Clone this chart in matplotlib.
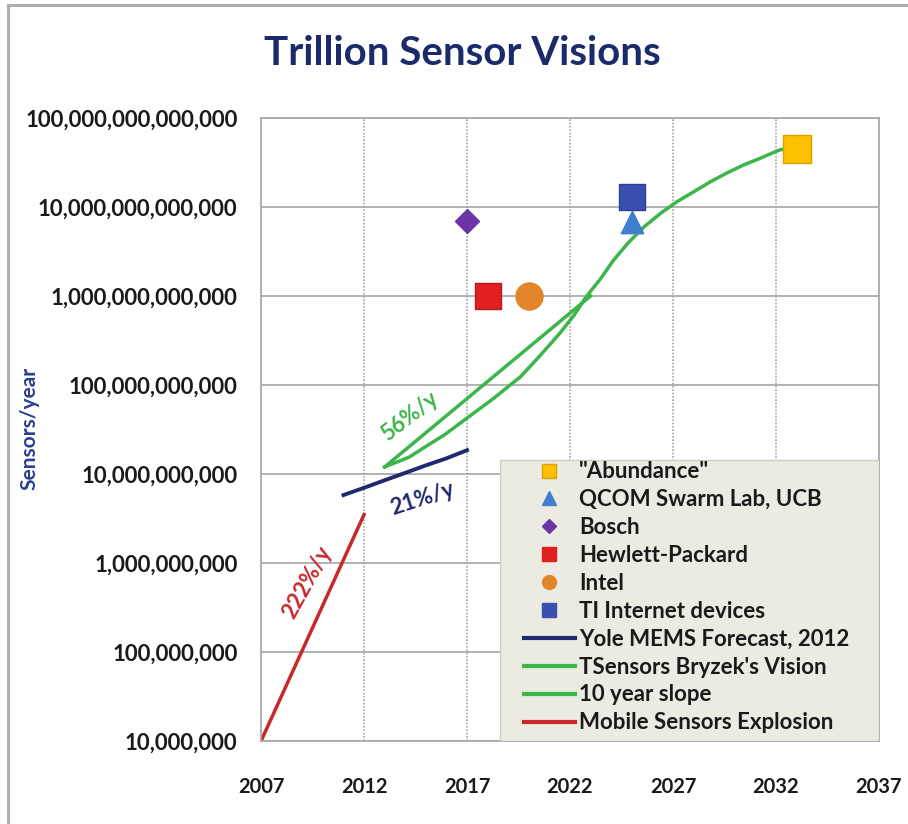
import numpy as np
import matplotlib.pyplot as plt
from matplotlib.lines import Line2D
from matplotlib.patches import Rectangle
from matplotlib.ticker import FixedLocator, FuncFormatter

plt.rcParams['font.family'] = ['Lato', 'DejaVu Sans']

# point forecasts (year, sensors/year)
abundance = (2033, 4.5e13)
qcom = (2025, 6.8e12)
bosch = (2017, 7.0e12)
hp = (2018, 1.0e12)
intel = (2020, 1.0e12)
ti = (2025, 1.3e13)

# lines
yole_years = [2011, 2012, 2013, 2014, 2015, 2016, 2017]
yole_vals = [5.8e9, 7.0e9, 8.5e9, 1.03e10, 1.25e10, 1.5e10, 1.85e10]
bryzek_years = [2013, 2014.2, 2015, 2015.9, 2017, 2018.3, 2019.6, 2020.5, 2021.5, 2022.2,
                2022.8, 2023.5, 2024.1, 2024.8, 2025.6, 2026.4, 2027.2, 2028, 2028.8,
                2029.6, 2030.4, 2031.2, 2032.2, 2032.8]
bryzek_vals = [1.2e10, 1.55e10, 2.04e10, 2.75e10, 4.25e10, 7.1e10, 1.24e11, 2.08e11,
               3.8e11, 6.1e11, 9.9e11, 1.58e12, 2.5e12, 3.9e12, 6.0e12, 8.5e12, 1.15e13,
               1.48e13, 1.91e13, 2.4e13, 2.95e13, 3.5e13, 4.4e13, 4.55e13]
slope_years = [2013, 2023]
slope_vals = [1.2e10, 1.0e12]
mobile_years = [2007, 2012]
mobile_vals = [1.0e7, 3.5e9]

year_ticks = [2007, 2012, 2017, 2022, 2027, 2032, 2037]
value_ticks = [1e7, 1e8, 1e9, 1e10, 1e11, 1e12, 1e13, 1e14]

navy = '#1f2a6e'
green = '#3cb54a'
red = '#c8282c'

fig = plt.figure(figsize=(9.08, 8.24), dpi=100)
ax = fig.add_axes([0.2875, 0.1007, 0.6805, 0.7561])

ax.set_yscale('log')
ax.set_xlim(2007, 2037)
ax.set_ylim(1e7, 1e14)
ax.xaxis.set_major_locator(FixedLocator(year_ticks))
ax.yaxis.set_major_locator(FixedLocator(value_ticks))
ax.yaxis.set_minor_locator(FixedLocator([]))
ax.yaxis.set_major_formatter(FuncFormatter(lambda v, p: f'{int(round(v)):,}'))
ax.tick_params(axis='y', length=0, labelsize=16, pad=17)
ax.tick_params(axis='x', length=0, labelsize=14.5, pad=26)
for lab in ax.get_xticklabels() + ax.get_yticklabels():
    lab.set_fontweight('bold')
    lab.set_color('#1a1a1a')

ax.grid(axis='y', color='#a6a6a6', lw=1.2)
ax.grid(axis='x', color='#a6a6a6', lw=1.2, ls=(0, (1, 1)))
ax.set_axisbelow(True)
for s in ax.spines.values():
    s.set_color('#a6a6a6')
    s.set_linewidth(1.2)

ax.plot(mobile_years, mobile_vals, color=red, lw=2.5)
ax.plot(yole_years, yole_vals, color=navy, lw=2.8)
ax.plot(slope_years, slope_vals, color=green, lw=2.5)
ax.plot(bryzek_years, bryzek_vals, color=green, lw=2.5)

ax.scatter(*abundance, marker='s', s=380, color='#ffc000', edgecolor='#d9a300', zorder=5)
ax.scatter(*ti, marker='s', s=360, color='#3a4fb0', edgecolor='#2e3f94', zorder=5)
ax.scatter(*qcom, marker='^', s=260, color='#3f7fd0', zorder=4)
ax.scatter(*bosch, marker='D', s=150, color='#6b35a8', zorder=5)
ax.scatter(*hp, marker='s', s=360, color='#e02020', edgecolor='#b81818', zorder=5)
ax.scatter(*intel, marker='o', s=380, color='#e3862b', zorder=5)

ax.text(2009.25, 6.0e8, '222%/y', color=red, fontsize=16, fontweight='bold',
        rotation=61, ha='center', va='center')
ax.text(2014.85, 5.2e9, '21%/y', color=navy, fontsize=16, fontweight='bold',
        rotation=18, ha='center', va='center')
ax.text(2014.2, 4.4e10, '56%/y', color=green, fontsize=16, fontweight='bold',
        rotation=38, ha='center', va='center')

# legend panel
ax.add_patch(Rectangle((0.387, 0.0), 0.613, 0.451, transform=ax.transAxes,
                       facecolor='#ecebe1', edgecolor='#d0cfc4', lw=1, zorder=6))

handles = [
    Line2D([], [], ls='none', marker='s', ms=10, color='#ffc000', mec='#d9a300'),
    Line2D([], [], ls='none', marker='^', ms=10, color='#3f7fd0'),
    Line2D([], [], ls='none', marker='D', ms=7.5, color='#6b35a8'),
    Line2D([], [], ls='none', marker='s', ms=10, color='#e02020'),
    Line2D([], [], ls='none', marker='o', ms=10, color='#e3862b'),
    Line2D([], [], ls='none', marker='s', ms=10, color='#3a4fb0'),
    Line2D([], [], color=navy, lw=3),
    Line2D([], [], color=green, lw=3),
    Line2D([], [], color=green, lw=3),
    Line2D([], [], color=red, lw=3),
]
labels = ['"Abundance"', 'QCOM Swarm Lab, UCB', 'Bosch', 'Hewlett-Packard', 'Intel',
          'TI Internet devices', 'Yole MEMS Forecast, 2012', "TSensors Bryzek's Vision",
          '10 year slope', 'Mobile Sensors Explosion']
leg = ax.legend(handles, labels, loc='upper left', bbox_to_anchor=(0.425, 0.449),
                frameon=False, handlelength=2.3, handletextpad=0.2, labelspacing=0.31,
                borderpad=0.0, borderaxespad=0.0,
                prop={'weight': 'bold', 'size': 16})
leg.set_zorder(7)
for t in leg.get_texts():
    t.set_color('#1a1a1a')

fig.text(0.509, 0.935, 'Trillion Sensor Visions', ha='center', va='center',
         fontsize=29, fontweight='bold', color='#1b2a6b')
fig.text(0.032, 0.48, 'Sensors/year', rotation=90, ha='center', va='center',
         fontsize=15, fontweight='bold', color='#2b3f8f')

# page frame on left and top
fig.add_artist(Line2D([0.009, 0.009], [0.0, 0.994], color='#b0b0b0', lw=2.2))
fig.add_artist(Line2D([0.009, 1.0], [0.994, 0.994], color='#b0b0b0', lw=2.2))

fig.savefig('out.png', dpi=100)
